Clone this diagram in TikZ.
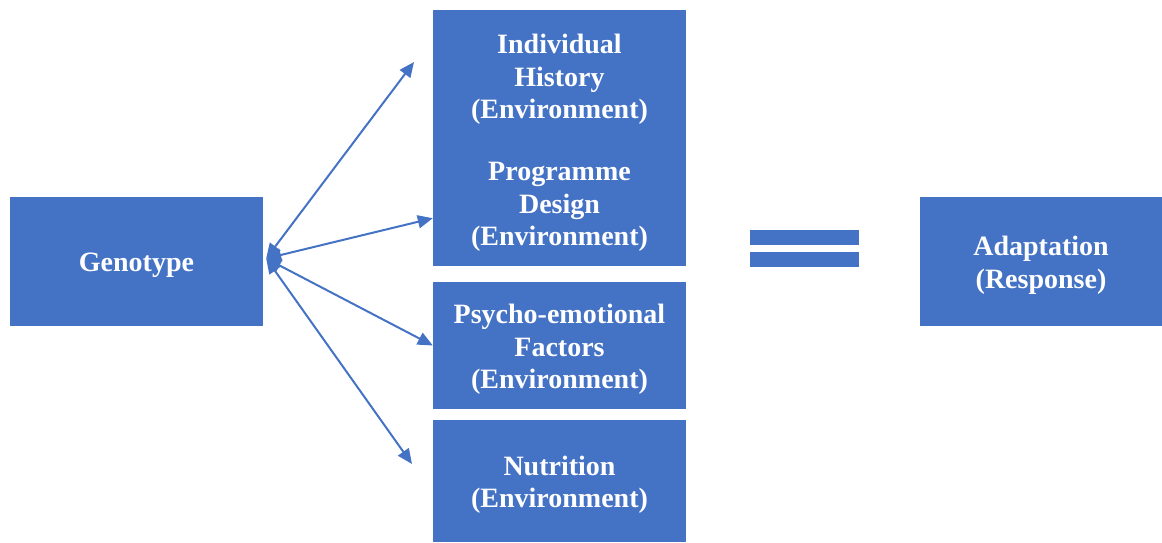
\documentclass[tikz,border=0pt]{standalone}
\usepackage{fontspec}
\setmainfont{Liberation Serif}
\usetikzlibrary{arrows.meta,calc}
\definecolor{boxblue}{HTML}{4472C4}
\tikzset{
  link/.style={draw=boxblue, line width=2pt,
    arrows={Triangle[length=15pt,width=13pt]-Triangle[length=15pt,width=13pt]}},
  boxtext/.style={text=white, align=center, inner sep=0pt, yshift=-4pt,
    font=\fontsize{28}{32.5}\selectfont\bfseries}
}
\begin{document}
\begin{tikzpicture}[x=1pt,y=-1pt]

      \useasboundingbox (0,0) rectangle (1162,542);

      \begin{scope}[every node/.style={rectangle, fill=boxblue, inner sep=0pt}]
        \node[minimum width=253pt, minimum height=129pt] (genotype)   at (136.5,261.5) {};
        \node[minimum width=253pt, minimum height=256pt] (envbox)     at (559.5,138)   {};
        \node[minimum width=253pt, minimum height=127pt] (psycho)     at (559.5,345.5) {};
        \node[minimum width=253pt, minimum height=122pt] (nutrition)  at (559.5,481)   {};
        \node[minimum width=242pt, minimum height=129pt] (adaptation) at (1041,261.5)  {};
      \end{scope}

      \node[boxtext] (genotypetext)   at (genotype)    {Genotype};
      \node[boxtext] (history)        at (559.5,75.5)  {Individual\\History\\(Environment)};
      \node[boxtext] (design)         at (559.5,203)   {Programme\\Design\\(Environment)};
      \node[boxtext] (psychotext)     at (psycho)      {Psycho-emotional\\Factors\\(Environment)};
      \node[boxtext] (nutritiontext)  at (nutrition)   {Nutrition\\(Environment)};
      \node[boxtext] (adaptationtext) at (adaptation)  {Adaptation\\(Response)};

      % equals sign
      \fill[boxblue] (750,230) rectangle (859,245);
      \fill[boxblue] (750,252) rectangle (859,267);

      \coordinate (gtip)    at ($(genotype.east)+(3,-3)$);
      \coordinate (histend) at (414,62);
      \coordinate (desend)  at ($(envbox.south west)+(0,-48)$);
      \coordinate (nutrend) at (412,464);

      \path (gtip) edge[link] (histend);
      \path (gtip) edge[link] (desend);
      \path (gtip) edge[link] (psycho.west);
      \path (gtip) edge[link] (nutrend);

\end{tikzpicture}
\end{document}
